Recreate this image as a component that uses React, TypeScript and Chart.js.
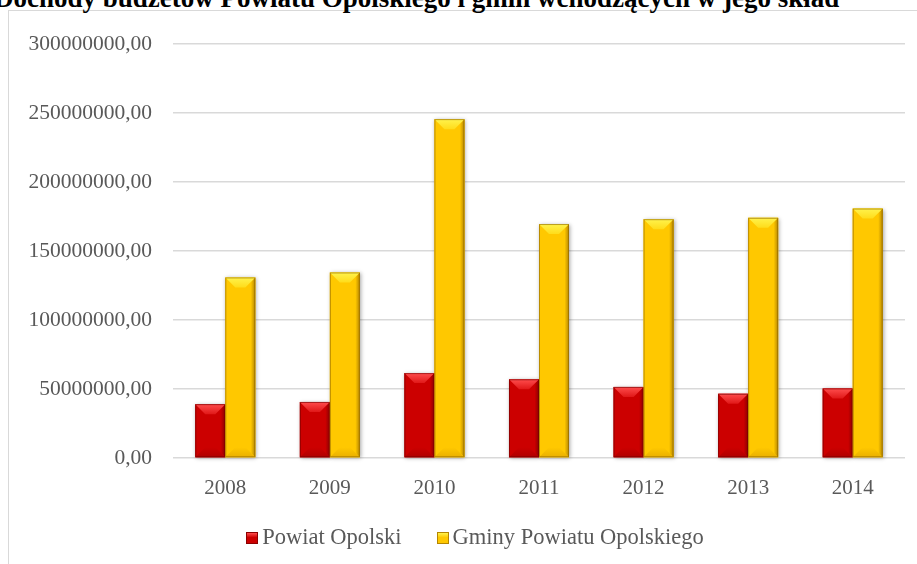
import React, { useEffect, useRef } from "react";
import { Chart, registerables } from "chart.js";

Chart.register(...registerables);

const titleText = "Dochody budżetów Powiatu Opolskiego i gmin wchodzących w jego skład";
const categories = ["2008", "2009", "2010", "2011", "2012", "2013", "2014"];
const seriesNames = ["Powiat Opolski", "Gminy Powiatu Opolskiego"];
const powiatValues = [39.0e6, 40.6e6, 61.5e6, 57.0e6, 51.5e6, 46.5e6, 50.4e6];
const gminyValues = [130.8e6, 134.4e6, 245.5e6, 169.5e6, 173.0e6, 174.0e6, 180.7e6];
const yMin = 0;
const yMax = 300e6;
const yStep = 50e6;

const palettes = [
  { base: "#cc0000", light: "#ff4d4d", mid: "#e01818", dark: "#8c0000", bottom: "#b00000", edge: "rgba(110,0,0,0.6)" },
  { base: "#ffc800", light: "#fff34d", mid: "#ffdc1a", dark: "#b58600", bottom: "#eab000", edge: "rgba(140,100,0,0.6)" },
];

const fmt = (v: number) => Math.round(v).toString() + ",00";

const bevelPlugin = {
  id: "bevel",
  beforeDatasetsDraw(chart: any) {
    const ctx = chart.ctx;
    ctx.save();
    chart.data.datasets.forEach((_ds: any, di: number) => {
      const meta = chart.getDatasetMeta(di);
      meta.data.forEach((bar: any) => {
        const { x, y, base, width } = bar.getProps(["x", "y", "base", "width"], true);
        const l = x - width / 2;
        const t = Math.min(y, base);
        const h = Math.abs(base - y);
        ctx.shadowColor = "rgba(0,0,0,0.35)";
        ctx.shadowBlur = 4;
        ctx.shadowOffsetX = 1;
        ctx.shadowOffsetY = 1;
        ctx.fillStyle = "#ffffff";
        ctx.fillRect(l, t, width, h);
      });
    });
    ctx.restore();
  },
  afterDatasetsDraw(chart: any) {
    const ctx = chart.ctx;
    chart.data.datasets.forEach((_ds: any, di: number) => {
      const meta = chart.getDatasetMeta(di);
      const p = palettes[di];
      meta.data.forEach((bar: any) => {
        const { x, y, base, width } = bar.getProps(["x", "y", "base", "width"], true);
        const l = x - width / 2;
        const r = x + width / 2;
        const t = Math.min(y, base);
        const b = Math.max(y, base);
        const h = b - t;
        const bv = Math.max(0, Math.min(10, width / 2 - 3, h / 2));
        ctx.save();
        ctx.fillStyle = p.base;
        ctx.fillRect(l, t, width, h);
        const gr = ctx.createLinearGradient(r - bv, 0, r, 0);
        gr.addColorStop(0, p.base);
        gr.addColorStop(0.55, p.base);
        gr.addColorStop(1, p.dark);
        ctx.fillStyle = gr;
        ctx.beginPath();
        ctx.moveTo(r, t);
        ctx.lineTo(r, b);
        ctx.lineTo(r - bv, b - bv);
        ctx.lineTo(r - bv, t + bv);
        ctx.closePath();
        ctx.fill();
        const gb = ctx.createLinearGradient(0, b - bv, 0, b);
        gb.addColorStop(0, p.base);
        gb.addColorStop(1, p.bottom);
        ctx.fillStyle = gb;
        ctx.beginPath();
        ctx.moveTo(l, b);
        ctx.lineTo(r, b);
        ctx.lineTo(r - bv, b - bv);
        ctx.lineTo(l + bv, b - bv);
        ctx.closePath();
        ctx.fill();
        const gt = ctx.createLinearGradient(0, t, 0, t + bv);
        gt.addColorStop(0, p.light);
        gt.addColorStop(1, p.mid);
        ctx.fillStyle = gt;
        ctx.beginPath();
        ctx.moveTo(l, t);
        ctx.lineTo(r, t);
        ctx.lineTo(r - bv, t + bv);
        ctx.lineTo(l + bv, t + bv);
        ctx.closePath();
        ctx.fill();
        ctx.strokeStyle = p.edge;
        ctx.lineWidth = 1;
        ctx.strokeRect(l + 0.5, t + 0.5, width - 1, h - 1);
        ctx.restore();
      });
    });
  },
};

function LegendBox({ p }: { p: any }) {
  return (
    <span
      style={{
        display: "inline-block",
        width: 12,
        height: 12,
        boxSizing: "border-box",
        border: `1px solid ${p.dark}`,
        background: `linear-gradient(180deg, ${p.light} 0%, ${p.base} 45%, ${p.base} 100%)`,
        marginRight: 4,
        verticalAlign: "middle",
        position: "relative",
        top: -1,
      }}
    />
  );
}

export default function App() {
  const canvasRef = useRef<HTMLCanvasElement | null>(null);

  useEffect(() => {
    const canvas = canvasRef.current;
    if (!canvas) return;
    const chart = new Chart(canvas, {
      type: "bar",
      data: {
        labels: categories,
        datasets: [
          {
            label: seriesNames[0],
            data: powiatValues,
            backgroundColor: palettes[0].base,
            borderWidth: 0,
            categoryPercentage: 0.574,
            barPercentage: 1,
          },
          {
            label: seriesNames[1],
            data: gminyValues,
            backgroundColor: palettes[1].base,
            borderWidth: 0,
            categoryPercentage: 0.574,
            barPercentage: 1,
          },
        ],
      },
      options: {
        responsive: false,
        animation: false,
        devicePixelRatio: 1,
        layout: { padding: { left: 19, right: 37, top: 28, bottom: 56 } },
        plugins: {
          legend: { display: false },
          title: { display: false },
          tooltip: { enabled: false },
        },
        scales: {
          x: {
            grid: { display: false },
            border: { display: false },
            ticks: {
              color: "#595959",
              padding: 10,
              font: { family: "'Liberation Serif', serif", size: 21 },
            },
            afterFit: (s: any) => {
              s.height = 50;
            },
          },
          y: {
            min: yMin,
            max: yMax,
            border: { display: false },
            grid: { color: "#d9d9d9", lineWidth: 1.5, drawTicks: false },
            ticks: {
              stepSize: yStep,
              color: "#595959",
              padding: 21,
              font: { family: "'Liberation Serif', serif", size: 21.5 },
              callback: (v: any) => fmt(Number(v)),
            },
            afterFit: (s: any) => {
              s.width = 146;
            },
          },
        },
      },
      plugins: [bevelPlugin],
    });
    return () => chart.destroy();
  }, []);

  return (
    <div
      style={{
        position: "fixed",
        left: 0,
        top: 0,
        width: 917,
        height: 564,
        overflow: "hidden",
        background: "#ffffff",
      }}
    >
      <div
        style={{
          position: "absolute",
          left: 8,
          top: 10,
          width: 1100,
          height: 800,
          border: "1px solid #d9d9d9",
          boxSizing: "border-box",
        }}
      />
      <div
        style={{
          position: "absolute",
          left: -6,
          top: -15,
          whiteSpace: "nowrap",
          fontFamily: "'Liberation Serif', serif",
          fontWeight: "bold",
          fontSize: 27,
          lineHeight: "27px",
          color: "#000000",
        }}
      >
        {titleText}
      </div>
      <canvas
        ref={canvasRef}
        width={934}
        height={554}
        style={{ position: "absolute", left: 8, top: 10, width: 934, height: 554 }}
      />
      <div
        style={{
          position: "absolute",
          left: 8,
          width: 934,
          top: 523,
          display: "flex",
          justifyContent: "center",
          fontFamily: "'Liberation Serif', serif",
          fontSize: 22.5,
          lineHeight: "28px",
          color: "#595959",
        }}
      >
        <span style={{ marginRight: 35, whiteSpace: "nowrap" }}>
          <LegendBox p={palettes[0]} />
          {seriesNames[0]}
        </span>
        <span style={{ whiteSpace: "nowrap" }}>
          <LegendBox p={palettes[1]} />
          {seriesNames[1]}
        </span>
      </div>
    </div>
  );
}
